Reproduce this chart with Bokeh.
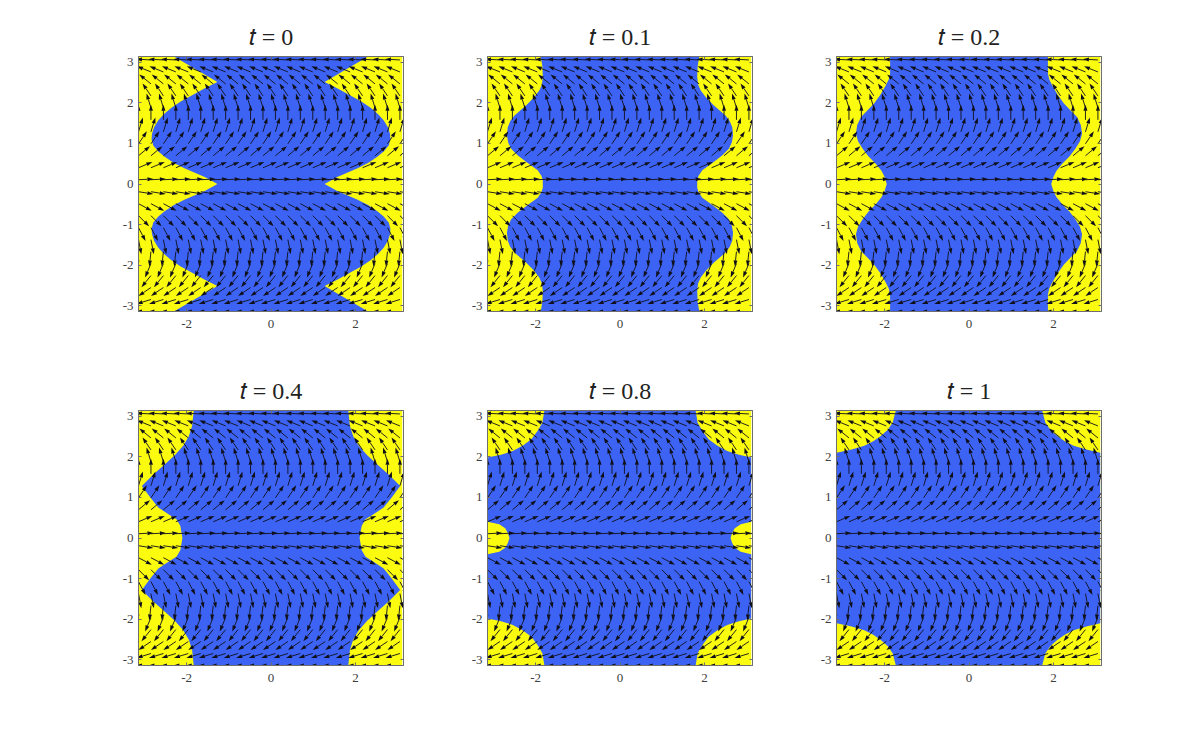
import math
from bokeh.embed import file_html
from bokeh.resources import INLINE
from bokeh.plotting import figure
from bokeh.layouts import column, row
from bokeh.models import LinearAxis, FixedTicker, Range1d

# ---- data ----
TITLES = ["𝑡 = 0", "𝑡 = 0.1", "𝑡 = 0.2", "𝑡 = 0.4", "𝑡 = 0.8", "𝑡 = 1"]
X_TICKS = [-2, 0, 2]
Y_TICKS = [-3, -2, -1, 0, 1, 2, 3]

# right-hand boundary of the blue region for y >= 0 (mirrored for the rest)
B0_Y = [3.15, 2.51, 2.35, 2.18, 2.03, 1.88, 1.72, 1.57, 1.40, 1.24, 1.10, 0.95, 0.80, 0.67, 0.52, 0.38, 0.17, 0.0]
B0_X = [2.32, 1.27, 1.58, 1.88, 2.14, 2.36, 2.54, 2.67, 2.77, 2.82, 2.83, 2.79, 2.67, 2.52, 2.30, 2.04, 1.57, 1.27]
B1_Y = [3.15, 2.90, 2.64, 2.45, 2.31, 2.14, 1.94, 1.69, 1.55, 1.40, 1.20, 1.02, 0.87, 0.70, 0.54, 0.34, 0.20, 0.09, 0.0]
B1_X = [1.88, 1.84, 1.83, 1.85, 1.91, 2.03, 2.22, 2.50, 2.60, 2.66, 2.68, 2.65, 2.58, 2.42, 2.22, 1.95, 1.86, 1.83, 1.83]
B2_Y = [3.15, 2.72, 2.58, 2.43, 2.20, 1.98, 1.80, 1.65, 1.45, 1.24, 1.05, 0.87, 0.68, 0.50, 0.32, 0.17, 0.0]
B2_X = [1.87, 1.87, 1.90, 1.97, 2.10, 2.25, 2.42, 2.56, 2.65, 2.68, 2.63, 2.52, 2.38, 2.21, 2.07, 2.00, 1.95]
B4_Y = [3.15, 2.76, 2.50, 2.27, 2.04, 1.81, 1.55, 1.28, 1.00, 0.75, 0.58, 0.46, 0.30, 0.13, 0.0]
B4_X = [1.83, 1.87, 1.95, 2.08, 2.28, 2.52, 2.80, 3.06, 2.86, 2.67, 2.42, 2.24, 2.15, 2.12, 2.10]
B8_Y = [3.15, 2.84, 2.64, 2.43, 2.28, 2.14, 2.05, 1.98, 0.40, 0.34, 0.24, 0.13, 0.0]
B8_X = [1.79, 1.84, 1.95, 2.10, 2.30, 2.54, 2.82, 3.20, 3.20, 2.86, 2.72, 2.66, 2.62]
B10_Y = [3.15, 2.84, 2.66, 2.51, 2.38, 2.27, 2.18, 2.10, 0.0]
B10_X = [1.73, 1.81, 1.93, 2.09, 2.27, 2.48, 2.78, 3.20, 3.20]
BOUNDS = [(B0_Y, B0_X), (B1_Y, B1_X), (B2_Y, B2_X), (B4_Y, B4_X), (B8_Y, B8_X), (B10_Y, B10_X)]

# arrow tails: columns, rows, and direction of the arrows on each row (degrees)
COL_X = [-3.14, -2.845, -2.55, -2.255, -1.96, -1.665, -1.37, -1.075, -0.78, -0.485, -0.19,
         0.105, 0.40, 0.695, 0.99, 1.285, 1.58, 1.875, 2.17, 2.465, 2.76, 3.055]
ROW_Y = [3.055, 2.76, 2.465, 2.17, 1.875, 1.58, 1.285, 0.99, 0.695, 0.40, 0.105,
         -0.19, -0.485, -0.78, -1.075, -1.37, -1.665, -1.96, -2.255, -2.55, -2.845, -3.14]
ROW_DIR = [177, 158, 141, 124, 107, 90, 73, 56, 40, 23, 3,
           -9, -28, -45, -62, -79, -96, -113, -129, -146, -163, 180]

BLUE = "#3D63F4"
YELLOW = "#FBFB10"
SERIF = "Liberation Serif"
PX_X, PX_Y = 42.2, 40.6      # pixels per data unit
ARROW_PX, HEAD_PX, HEAD_HALF_PX = 15.0, 6.0, 2.0
INK = "#10101a"
FRAME = "#6e6e6e"


def arrows():
    x0, y0, x1, y1, hx, hy = [], [], [], [], [], []
    for y, deg in zip(ROW_Y, ROW_DIR):
        c, s = math.cos(math.radians(deg)), math.sin(math.radians(deg))
        for x in COL_X:
            shaft = ARROW_PX - HEAD_PX
            tip = (x + ARROW_PX * c / PX_X, y + ARROW_PX * s / PX_Y)
            base = (x + shaft * c / PX_X, y + shaft * s / PX_Y)
            x0.append(x); y0.append(y); x1.append(base[0]); y1.append(base[1])
            hx.append([tip[0], base[0] - HEAD_HALF_PX * s / PX_X, base[0] + HEAD_HALF_PX * s / PX_X])
            hy.append([tip[1], base[1] + HEAD_HALF_PX * c / PX_Y, base[1] - HEAD_HALF_PX * c / PX_Y])
    return x0, y0, x1, y1, hx, hy


ARROWS = arrows()


def panel(i, left_margin=0, top_margin=0):
    p = figure(width=349, height=354, frame_width=265, frame_height=255,
               min_border_left=60, min_border_right=24, min_border_top=48, min_border_bottom=51,
               x_range=Range1d(-3.14, 3.14), y_range=Range1d(-3.14, 3.14),
               toolbar_location=None, output_backend="svg", tools="",
               margin=(top_margin, 0, 0, left_margin))
    p.grid.visible = False
    p.title.text = TITLES[i]
    p.title.align = "center"
    p.title.text_font = SERIF
    p.title.text_font_size = "24px"
    p.title.text_font_style = "normal"
    p.title.text_color = "#222222"
    p.title.standoff = 13
    p.outline_line_color = FRAME
    p.outline_line_width = 1

    # the image area stops just short of the right frame edge
    p.quad(left=[-3.14], right=[3.11], bottom=[-3.14], top=[3.14], color=YELLOW, line_color=None)
    ys, xs = BOUNDS[i]
    right_y = list(ys) + [-v for v in reversed(ys)]
    right_x = list(xs) + list(reversed(xs))
    px = [min(v, 3.11) for v in right_x] + [-min(v, 3.14) for v in reversed(right_x)]
    py = right_y + list(reversed(right_y))
    p.patch(px, py, color=BLUE, line_color=None)

    x0, y0, x1, y1, hx, hy = ARROWS
    p.segment(x0, y0, x1, y1, line_color=INK, line_width=1.0, line_alpha=0.9)
    p.patches(hx, hy, color=INK, line_color=None)

    for ax, ticks in ((p.xaxis[0], X_TICKS), (p.yaxis[0], Y_TICKS)):
        ax.ticker = FixedTicker(ticks=ticks)
        ax.major_label_overrides = {t: str(t) for t in ticks}
        ax.major_label_text_font = SERIF
        ax.major_label_text_font_size = "13px"
        ax.major_label_text_color = "#404040"
        ax.major_tick_in = 3
        ax.major_tick_out = 0
        ax.minor_tick_line_color = None
        ax.major_tick_line_color = FRAME
        ax.axis_line_color = FRAME
    p.xaxis[0].major_label_standoff = 8
    p.yaxis[0].major_label_standoff = 5
    for loc, ticks in (("right", Y_TICKS), ("above", X_TICKS)):
        a = LinearAxis(ticker=FixedTicker(ticks=ticks), major_label_text_font_size="0px",
                       major_label_text_color=None, major_tick_in=3, major_tick_out=0,
                       minor_tick_line_color=None, major_tick_line_color=FRAME,
                       axis_line_color=FRAME, major_label_standoff=0)
        p.add_layout(a, loc)
    return p


layout = column(row(panel(0, 78, 8), panel(1, 0, 8), panel(2, 0, 8)),
                row(panel(3, 78), panel(4), panel(5)))
open("out.html", "w").write(file_html(layout, INLINE))
